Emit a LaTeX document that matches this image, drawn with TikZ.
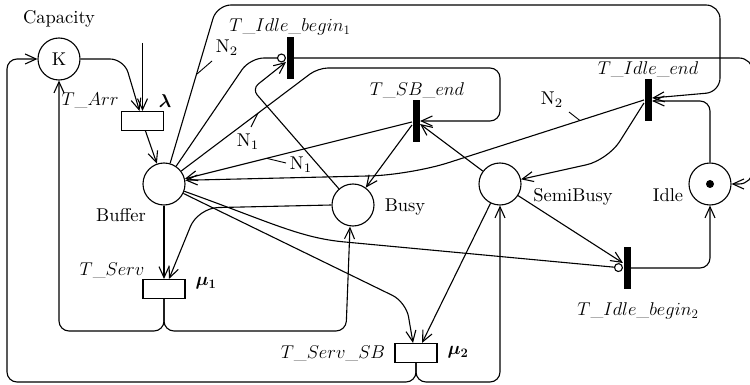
\RequirePackage{fix-cm}
\documentclass[tikz,border=0pt]{standalone}
\usepackage{bm}
\usepackage{graphicx}
\usetikzlibrary{arrows.meta,calc}
\newcommand\bigtxt{\fontsize{18.5}{22}\selectfont}
\newcommand\tx[1]{\scalebox{1.85}{#1}}
\begin{document}
\begin{tikzpicture}[x=1pt,y=1pt,line width=1.1pt,
  pl/.style={circle,draw,minimum size=42pt,inner sep=0pt,font=\normalsize},
  tbox/.style={rectangle,draw,fill=white,minimum width=42pt,minimum height=19pt,inner sep=0pt},
  tbar/.style={rectangle,fill=black,minimum width=7pt,minimum height=42pt,inner sep=0pt},
  flow/.style={-{Straight Barb[length=11pt,width=10pt]}},
  inh/.style={-{Circle[open,length=9pt]}},
  lbl/.style={inner sep=0pt,font=\bigtxt},
  txt/.style={inner sep=0pt,font=\normalsize},
  tick/.style={line width=0.9pt}]
\useasboundingbox (0,0) rectangle (750,-385);

% places
\node[pl] (K) at (59,-59) {\tx{K}};
\node[pl] (Buffer) at (164,-184) {};
\node[pl] (Busy) at (353,-205) {};
\node[pl] (SemiBusy) at (500,-184) {};
\node[pl] (Idle) at (710,-184) {};
\fill (Idle.center) circle (4pt);

% transitions
\node[tbox] (TArr) at (142.5,-121) {};
\node[tbox] (TServ) at (164,-289) {};
\node[tbox] (TSSB) at (416,-353) {};
\node[tbar] (TIb1) at (290,-58) {};
\node[tbar] (TSB) at (416,-121) {};
\node[tbar] (TIE) at (648,-100) {};
\node[tbar] (TIb2) at (627,-268) {};

% labels
\node[txt] (lCap) at (59,-19) {\tx{Capacity}};
\node[lbl] (lArr) at (90,-100) {$T\_Arr$};
\node[lbl] (lLam) at (165,-101) {$\bm{\lambda}$};
\node[txt] (lBuf) at (121,-215) {\tx{Buffer}};
\node[txt] (lBusy) at (405,-207) {\tx{Busy}};
\node[txt] (lSemi) at (573,-197) {\tx{SemiBusy}};
\node[txt] (lIdle) at (668,-195) {\tx{Idle}};
\node[lbl] (lServ) at (112,-270) {$T\_Serv$};
\node[lbl] (lMu1) at (206,-283) {$\bm{\mu}_{\bm{1}}$};
\node[lbl] (lSSB) at (333,-353) {$T\_Serv\_SB$};
\node[lbl] (lMu2) at (458,-352) {$\bm{\mu}_{\bm{2}}$};
\node[lbl] (lIb1) at (290,-27) {$T\_Idle\_begin_1$};
\node[lbl] (lSB) at (417,-90) {$T\_SB\_end$};
\node[lbl] (lIE) at (648,-69) {$T\_Idle\_end$};
\node[lbl] (lIb2) at (638,-311) {$T\_Idle\_begin_2$};

% arcs
\coordinate (src) at (142.5,-43);
\draw[flow,rounded corners=14pt] (K.east) -- (124,-59) -- ($(TArr.north)+(-3,0)$);
\draw[flow] (src) -- (TArr.north);
\draw[flow] ($(TArr.south)+(3,0)$) -- (Buffer);
\draw[flow] (Buffer) -- (TServ.north);
\draw[flow,rounded corners=10pt] (TServ.south) -- (164,-331) -- (59,-331) -- (K.south);
\draw[flow,rounded corners=10pt] (TServ.south) -- (164,-331) -- (346,-331) -- ($(Busy.south)+(-3,0)$);
\draw[flow,rounded corners=20pt] (Busy.west) -- (198,-208) -- ($(TServ.north)+(5,0)$);
\draw[flow,rounded corners=10pt] (TSSB.south) -- (416,-382) -- (7,-382) -- (7,-59) -- (K.west);
\draw[flow,rounded corners=10pt] (TSSB.south) -- (416,-382) -- (500,-382) -- (SemiBusy.south);
\draw[flow] (SemiBusy) -- ($(TSSB.north)+(6,0)$);
\draw[flow,rounded corners=15pt] (Buffer) -- (406,-302) -- ($(TSSB.north)+(-3,0)$);
\draw[inh] (Buffer) .. controls (270,-222) and (300,-238) .. (345,-242) -- (TIb2.west);
\draw[flow] (SemiBusy) -- ($(TIb2.west)+(0,5)$);
\draw[flow,rounded corners=10pt] (TIb2.east) -- (710,-268) -- (Idle.south);
\draw[flow,rounded corners=10pt] (Idle.north) -- (710,-101) -- ($(TIE.east)+(0,-1)$);
\draw[flow,rounded corners=22pt] ($(TIE.west)+(0,-3)$) -- (608,-160) -- (SemiBusy);
\draw[flow,rounded corners=40pt] (TIE.west) -- (410,-175) -- (Buffer.10);
\draw[flow] ($(TSB.west)+(0,-4)$) -- (Busy);
\draw[flow] (SemiBusy) -- ($(TSB.east)+(0,-3)$);
\draw[flow] ($(TSB.west)+(0,-1)$) -- (Buffer);
\draw[flow,rounded corners=10pt] (Buffer) -- (318,-68) -- (500,-68) -- (500,-121) -- (TSB.east);
\draw[inh,rounded corners=14pt] (Buffer) -- (250,-58) -- (TIb1.west);
\draw[flow,rounded corners=8pt] (Busy) -- (252,-89) -- ($(TIb1.west)+(0,-4)$);
\draw[flow,rounded corners=14pt] (Buffer) -- (217,-5) -- (720,-5) -- (720,-92) -- ($(TIE.east)+(0,2)$);
\draw[flow,rounded corners=14pt] (TIb1.east) -- (753,-58) -- (753,-184) -- (Idle.east);

% weights
\coordinate (w1) at (197,-74);
\draw[tick] (w1) -- (212,-61);
\node[txt] (lN2a) at (227,-48) {\tx{N$_2$}};
\coordinate (w2) at (258,-113);
\draw[tick] (w2) -- (251,-127);
\node[txt] (lN1a) at (248,-142) {\tx{N$_1$}};
\coordinate (w3) at (267,-158.4);
\draw[tick] (w3) -- (286,-163);
\node[txt] (lN1b) at (301,-165) {\tx{N$_1$}};
\coordinate (w4) at (580,-120.6);
\draw[tick] (w4) -- (569,-112);
\node[txt] (lN2b) at (552,-100) {\tx{N$_2$}};
\end{tikzpicture}
\end{document}
